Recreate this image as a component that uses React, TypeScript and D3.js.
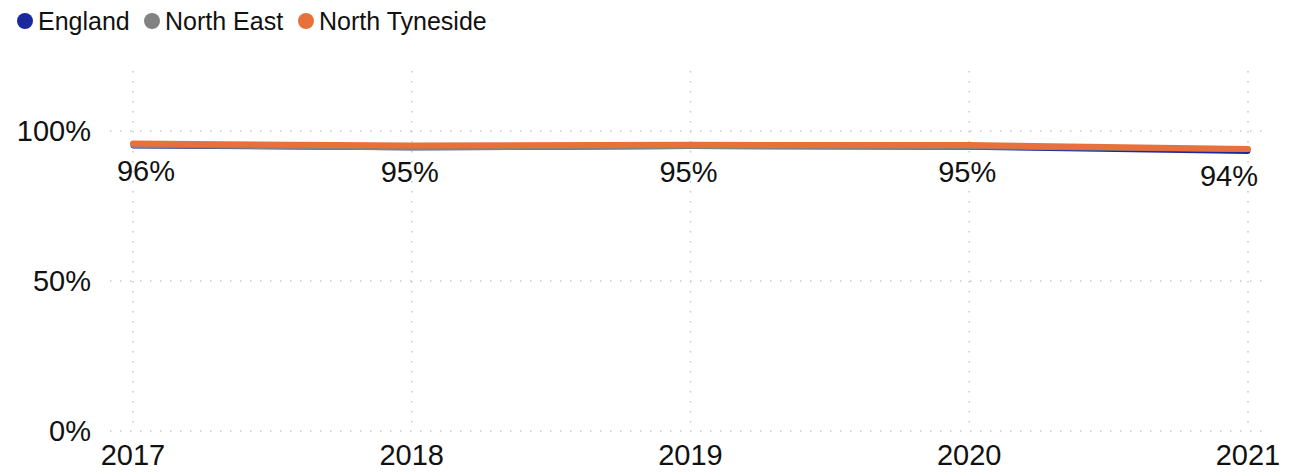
import React from 'react';
import * as d3 from 'd3';

const years = [2017, 2018, 2019, 2020, 2021];
const england = [95.0, 94.4, 94.8, 94.6, 93.2];
const northEast = [95.2, 94.3, 94.8, 94.7, 93.8];
const northTyneside = [95.8, 95.2, 95.4, 95.3, 94.0];
const yTicks = [0, 50, 100];

const seriesList = [
    { name: 'England', values: england, color: '#1a2a9e' },
    { name: 'North East', values: northEast, color: '#828282' },
    { name: 'North Tyneside', values: northTyneside, color: '#e8703a' },
];

export default function App() {
    const width = 1302;
    const height = 476;
    const font = 'Arial, "Liberation Sans", sans-serif';

    const xScale = d3.scaleLinear()
        .domain(d3.extent(years) as [number, number])
        .range([133, 1248]);

    const yScale = d3.scaleLinear()
        .domain([0, 120])
        .range([431, 71]);

    const lineGenerator = (vals: number[]) => d3.line<number>()
        .x((_, i) => xScale(years[i]))
        .y(d => yScale(d))(vals);

    const labelMin = 146;
    const labelMax = 1229;

    // legend layout
    const legendX = [25, 152, 306];

    return (
        <div style={{ position: 'absolute', left: 0, top: 0 }}>
            <svg width={width} height={height} style={{ display: 'block', fontFamily: font }}>
                <g>
                    {seriesList.map((s, i) => (
                        <g key={s.name}>
                            <circle cx={legendX[i]} cy={21} r={8} fill={s.color} />
                            <text x={legendX[i] + 13} y={30} fontSize={25} fill="#111">{s.name}</text>
                        </g>
                    ))}
                </g>
                <g stroke="#c8c8c8" strokeWidth={1.5} strokeDasharray="1.5 8.5">
                    {yTicks.map(t => (
                        <line key={t} x1={110} x2={1268} y1={yScale(t)} y2={yScale(t)} />
                    ))}
                    {years.map(y => (
                        <line key={y} x1={xScale(y)} x2={xScale(y)} y1={yScale(120)} y2={yScale(0)} />
                    ))}
                </g>
                <g fontSize={29} fill="#111">
                    {yTicks.map(t => (
                        <text key={t} x={91} y={yScale(t)} dy="0.35em" textAnchor="end">{t}%</text>
                    ))}
                    {years.map(y => (
                        <text key={y} x={xScale(y)} y={465} textAnchor="middle">{y}</text>
                    ))}
                </g>
                <g fill="none" strokeLinecap="round" strokeLinejoin="round">
                    {seriesList.map((s, i) => (
                        <path key={s.name} d={lineGenerator(s.values) || ''} stroke={s.color}
                            strokeWidth={i === 2 ? 6 : 5} />
                    ))}
                </g>
                <g fontSize={29} fill="#111" textAnchor="middle">
                    {northTyneside.map((v, i) => (
                        <text key={years[i]}
                            x={Math.min(labelMax, Math.max(labelMin, xScale(years[i]) - 2))}
                            y={yScale(v) + 37}>
                            {Math.round(v)}%
                        </text>
                    ))}
                </g>
            </svg>
        </div>
    );
}
